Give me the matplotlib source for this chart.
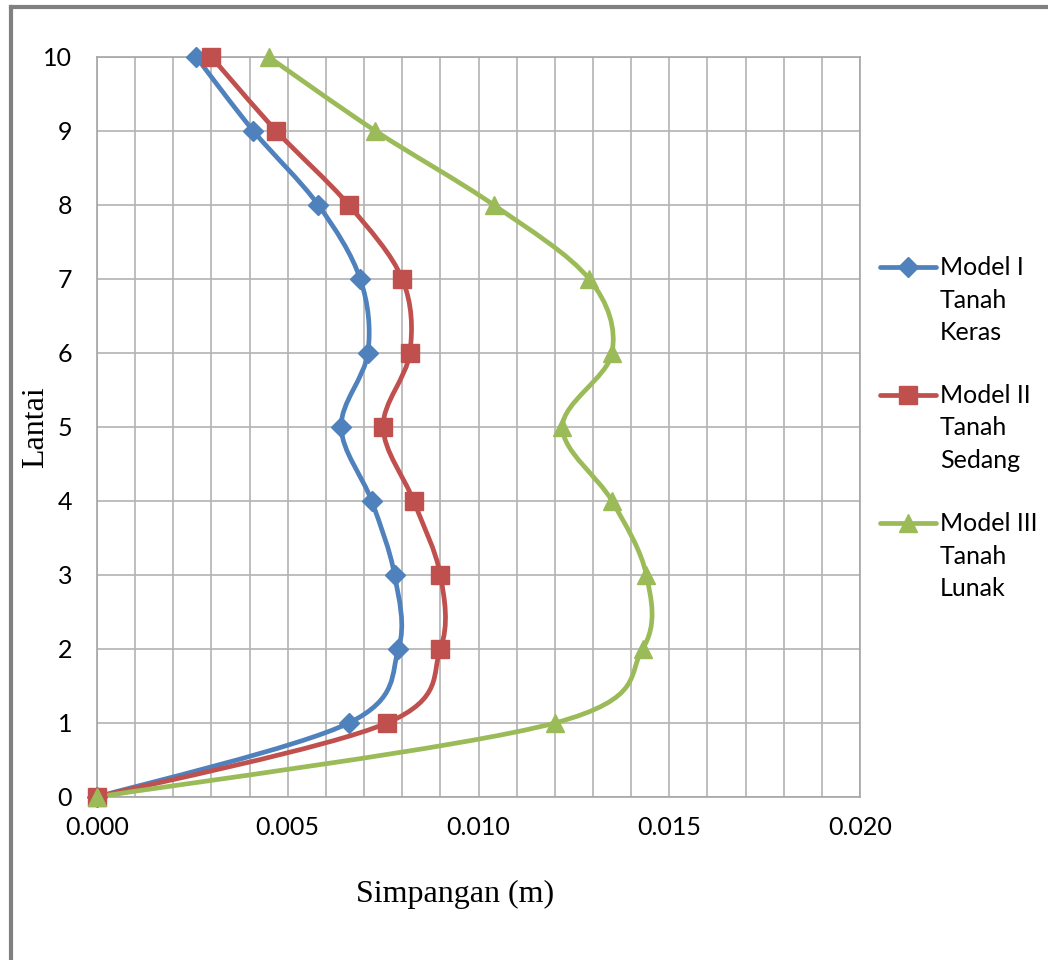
import matplotlib
matplotlib.use("Agg")
import matplotlib.pyplot as plt
import numpy as np
from matplotlib.path import Path
from matplotlib.patches import PathPatch
from matplotlib.lines import Line2D

lantai = [0, 1, 2, 3, 4, 5, 6, 7, 8, 9, 10]
model1 = [0.0, 0.0066, 0.0079, 0.0078, 0.0072, 0.0064, 0.0071, 0.0069, 0.0058, 0.0041, 0.0026]
model2 = [0.0, 0.0076, 0.0090, 0.0090, 0.0083, 0.0075, 0.0082, 0.0080, 0.0066, 0.0047, 0.0030]
model3 = [0.0, 0.0120, 0.0143, 0.0144, 0.0135, 0.0122, 0.0135, 0.0129, 0.0104, 0.0073, 0.0045]
labels = ["Model I\nTanah\nKeras", "Model II\nTanah\nSedang", "Model III\nTanah\nLunak"]
colors = ["#4F81BD", "#C0504D", "#9BBB59"]
markers = ["D", "s", "^"]
msizes = [10, 13, 13]
xticks = [0.000, 0.005, 0.010, 0.015, 0.020]

TICK_FONT = "Lato"
LABEL_FONT = "Liberation Serif"


def smooth_path(x, y):
    # excel-style smoothed line: bezier segments with catmull-rom control points
    pts = np.column_stack([x, y])
    n = len(pts)
    verts = [pts[0]]
    codes = [Path.MOVETO]
    for i in range(n - 1):
        p0 = pts[max(i - 1, 0)]
        p1 = pts[i]
        p2 = pts[i + 1]
        p3 = pts[min(i + 2, n - 1)]
        c1 = p1 + (p2 - p0) / 6.0
        c2 = p2 - (p3 - p1) / 6.0
        verts += [c1, c2, p2]
        codes += [Path.CURVE4] * 3
    return Path(verts, codes)


fig = plt.figure(figsize=(10.48, 9.6), dpi=100)
ax = fig.add_axes([97 / 1048, 163 / 960, 763 / 1048, 740 / 960])

for xs, col, mk, ms in zip([model1, model2, model3], colors, markers, msizes):
    patch = PathPatch(smooth_path(xs, lantai), fill=False, edgecolor=col, lw=3.4,
                      capstyle="round", joinstyle="round", zorder=3)
    ax.add_patch(patch)
    ax.plot(xs, lantai, linestyle="none", marker=mk, ms=ms, color=col, zorder=4,
            clip_on=False)

ax.set_xlim(0, 0.020)
ax.set_ylim(0, 10)
ax.set_xticks(xticks)
ax.set_xticklabels(["%.3f" % v for v in xticks], fontfamily=TICK_FONT, fontsize=18)
ax.set_xticks(np.arange(0, 0.0201, 0.001), minor=True)
ax.set_yticks(lantai)
ax.set_yticklabels([str(v) for v in lantai], fontfamily=TICK_FONT, fontsize=18)
ax.grid(True, which="both", color="#b3b3b3", lw=1.2)
ax.set_axisbelow(True)
ax.tick_params(which="both", length=0)
ax.tick_params(axis="x", pad=14)
ax.tick_params(axis="y", pad=18)
for s in ax.spines.values():
    s.set_color("#a6a6a6")
    s.set_linewidth(1.2)

ax.set_xlabel("Simpangan (m)", fontfamily=LABEL_FONT, fontsize=23)
ax.set_ylabel("Lantai", fontfamily=LABEL_FONT, fontsize=23)
ax.xaxis.set_label_coords(0.469, -0.132)
ax.yaxis.set_label_coords(-0.081, 0.5)
ax.xaxis.label.set_va("center")
ax.yaxis.label.set_va("center")

# legend drawn by hand so the marker sits on the first text line
for k, (lab, col, mk, ms) in enumerate(zip(labels, colors, markers, msizes)):
    yy = 1 - (267 + 128 * k) / 960
    fig.add_artist(Line2D([880 / 1048, 936 / 1048], [yy, yy], color=col, lw=3.4,
                          solid_capstyle="round", transform=fig.transFigure))
    fig.add_artist(Line2D([908 / 1048], [yy], marker=mk, ms=ms, color=col,
                          transform=fig.transFigure))
    fig.text(940 / 1048, yy + 11 / 960, lab, va="top", ha="left", fontfamily=TICK_FONT,
             fontsize=18, linespacing=1.5, transform=fig.transFigure)

# outer frame (only top and left visible)
fig.add_artist(Line2D([11 / 1048, 1], [1 - 6.5 / 960, 1 - 6.5 / 960], color="#808080", lw=3,
                      transform=fig.transFigure))
fig.add_artist(Line2D([11 / 1048, 11 / 1048], [0, 1 - 6.5 / 960], color="#808080", lw=3,
                      transform=fig.transFigure))

fig.savefig("out.png", dpi=100, facecolor="white")
